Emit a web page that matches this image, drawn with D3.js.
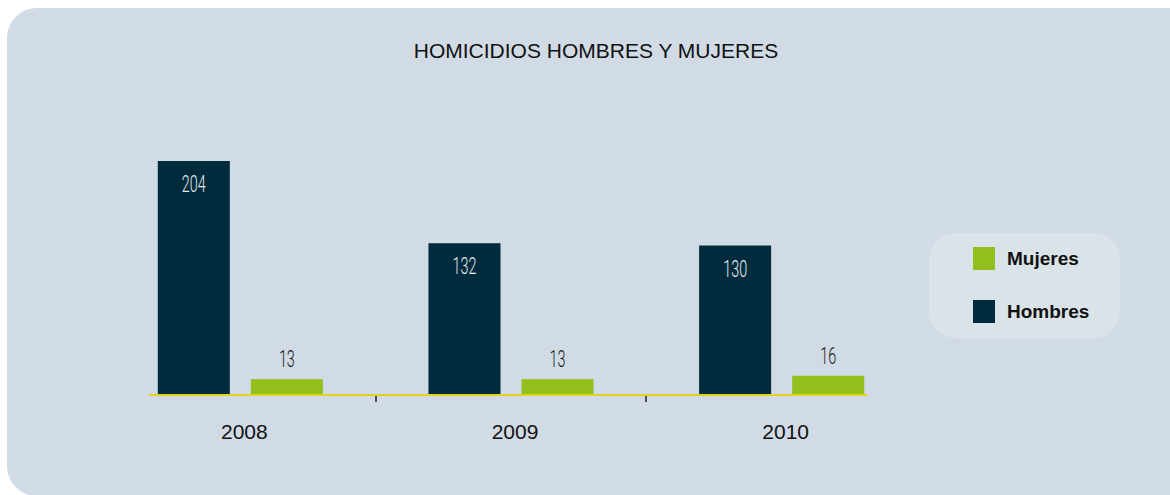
<!DOCTYPE html>
<html>
<head>
<meta charset="utf-8">
<script src="https://cdn.jsdelivr.net/npm/d3@7"></script>
<style>
  body { margin: 0; background: #fff; }
  svg { display: block; }
</style>
</head>
<body>
<div id="chart"></div>
<script>
"use strict";

const years = ["2008", "2009", "2010"];
const seriesNames = ["Hombres", "Mujeres"];
const hombres = [204, 132, 130];
const mujeres = [13, 13, 16];
const legendOrder = ["Mujeres", "Hombres"];

const W = 1170, H = 495;
const colors = { Hombres: "#002b3c", Mujeres: "#93c01f" };

const svg = d3.select("#chart").append("svg")
  .attr("width", W)
  .attr("height", H);

// panel (runs off the right edge, bottom-left corner visible)
svg.append("rect")
  .attr("x", 7).attr("y", 8)
  .attr("width", W + 40).attr("height", 488)
  .attr("rx", 30).attr("ry", 30)
  .attr("fill", "#d0dbe5");

svg.append("text")
  .attr("x", 596).attr("y", 58)
  .attr("text-anchor", "middle")
  .attr("font-family", "Liberation Sans, Arial, sans-serif")
  .attr("font-size", 21)
  .attr("fill", "#111")
  .text("HOMICIDIOS HOMBRES Y MUJERES");

const data = years.map((y, i) => ({ year: y, Hombres: hombres[i], Mujeres: mujeres[i] }));

// scales
const x0 = d3.scaleBand()
  .domain(years)
  .range([105, 917])
  .paddingInner(0.39)
  .paddingOuter(0.195);

const x1 = d3.scaleBand()
  .domain(seriesNames)
  .range([0, x0.bandwidth()])
  .paddingInner(0.226);

const y = d3.scaleLinear()
  .domain([0, d3.max(hombres)])
  .range([394, 161]);

const groups = svg.selectAll(".group")
  .data(data)
  .enter().append("g")
  .attr("class", "group")
  .attr("transform", d => `translate(${x0(d.year)},0)`);

groups.selectAll("rect")
  .data(d => seriesNames.map(k => ({ key: k, value: d[k] })))
  .enter().append("rect")
  .attr("x", d => x1(d.key))
  .attr("y", d => y(d.value))
  .attr("width", x1.bandwidth())
  .attr("height", d => y(0) - y(d.value))
  .attr("fill", d => colors[d.key]);

// value labels: inside for tall bars, above for short ones
groups.selectAll(".val")
  .data(d => seriesNames.map(k => ({ key: k, value: d[k] })))
  .enter().append("text")
  .attr("class", "val")
  .attr("transform", d => {
    const cx = x1(d.key) + x1.bandwidth() / 2;
    const ty = d.key === "Hombres" ? y(d.value) + 31 : y(d.value) - 12;
    return `translate(${cx},${ty}) scale(0.6,1)`;
  })
  .attr("text-anchor", "middle")
  .attr("font-family", "Roboto, sans-serif")
  .attr("font-weight", 300)
  .attr("font-size", 24)
  .attr("fill", d => d.key === "Hombres" ? "#e6edf2" : "#1a1a1a")
  .text(d => d.value);

// axis line
const axisStart = x0(years[0]) - 9;
const axisEnd = x0(years[years.length - 1]) + x0.bandwidth() + 3;
svg.append("line")
  .attr("x1", axisStart).attr("x2", axisEnd)
  .attr("y1", 395).attr("y2", 395)
  .attr("stroke", "#e3d21c")
  .attr("stroke-width", 2);

// ticks between categories
const step = x0.step();
years.slice(1).forEach(yr => {
  const tx = Math.round(x0(yr) - (step - x0.bandwidth()) / 2);
  svg.append("line")
    .attr("x1", tx).attr("x2", tx)
    .attr("y1", 396).attr("y2", 402)
    .attr("stroke", "#222")
    .attr("stroke-width", 1.5);
});

// category labels
svg.selectAll(".cat")
  .data(years)
  .enter().append("text")
  .attr("class", "cat")
  .attr("x", d => x0(d) + x0.bandwidth() / 2 + 4)
  .attr("y", 439)
  .attr("text-anchor", "middle")
  .attr("font-family", "Liberation Sans, Arial, sans-serif")
  .attr("font-size", 21)
  .attr("fill", "#111")
  .text(d => d);

// legend
const legend = svg.append("g").attr("transform", "translate(929,233)");
legend.append("rect")
  .attr("width", 191).attr("height", 105)
  .attr("rx", 26).attr("ry", 26)
  .attr("fill", "#d9e3e8");

const li = legend.selectAll(".li")
  .data(legendOrder)
  .enter().append("g")
  .attr("class", "li")
  .attr("transform", (d, i) => `translate(44,${14 + i * 53})`);

li.append("rect")
  .attr("width", 22).attr("height", 23)
  .attr("fill", d => colors[d]);

li.append("text")
  .attr("x", 34).attr("y", 18)
  .attr("font-family", "Liberation Sans, Arial, sans-serif")
  .attr("font-weight", "bold")
  .attr("font-size", 19)
  .attr("fill", "#111")
  .text(d => d);
</script>
</body>
</html>
